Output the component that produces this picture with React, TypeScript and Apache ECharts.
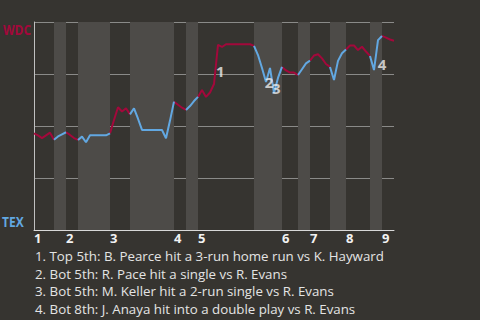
import React, { useEffect, useRef } from "react";
import * as echarts from "echarts";

// Win probability (WDC %) after each event, event index 0..90
const winProb: number[] = [
  46.5, 45.5, 44.2, 45.5, 46.8, 43.4, 45.0, 46.0, 47.0, 45.7,
  44.2, 43.3, 44.9, 42.2, 45.5, 45.5, 45.5, 45.5, 45.5, 46.5,
  52.9, 59.0, 57.0, 58.5, 55.6, 58.5, 53.5, 48.1, 48.1, 48.1,
  48.1, 48.1, 48.1, 44.1, 52.6, 61.7, 60.2, 58.8, 57.7, 59.6,
  62.0, 64.0, 67.3, 64.0, 66.1, 70.2, 89.0, 88.0, 89.3, 89.3,
  89.3, 89.3, 89.3, 89.3, 89.3, 88.5, 84.1, 77.9, 71.2, 77.9,
  65.9, 73.1, 78.4, 76.7, 75.7, 75.7, 74.5, 77.3, 80.1, 81.4,
  83.9, 84.5, 82.5, 79.8, 78.4, 72.1, 81.3, 85.0, 86.8, 88.7,
  88.7, 86.5, 88.1, 85.8, 83.7, 76.9, 91.3, 93.3, 92.5, 91.6,
  91.0,
];

// Event index where each inning (top half) starts, and where each bottom half starts
const inningStarts: number[] = [0, 8, 19, 35, 41, 62, 69, 78, 87];
const bottomStarts: number[] = [5, 11, 24, 38, 55, 66, 74, 84];
const inningLabels: string[] = ["1", "2", "3", "4", "5", "6", "7", "8", "9"];
const lastEvent = 90;

// Annotation markers on the chart
const noteText: string[] = ["1", "2", "3", "4"];
const noteX: number[] = [46.6, 58.75, 60.6, 87];
const noteY: number[] = [76.4, 71.2, 68.3, 79.8];

const notes: string[] = [
  "1. Top 5th: B. Pearce hit a 3-run home run vs K. Hayward",
  "2. Bot 5th: R. Pace hit a single vs R. Evans",
  "3. Bot 5th: M. Keller hit a 2-run single vs R. Evans",
  "4. Bot 8th: J. Anaya hit into a double play vs R. Evans",
];

const RED = "#a3083b";
const BLUE = "#62a8e2";
const BG = "#363430";
const BAND = "#4d4b48";
const FONT = "'Open Sans', sans-serif";

function halfOf(i: number): "top" | "bot" {
  let half: "top" | "bot" = "top";
  const marks = [
    ...inningStarts.map((v) => ({ v, h: "top" as const })),
    ...bottomStarts.map((v) => ({ v, h: "bot" as const })),
  ].sort((a, b) => a.v - b.v);
  for (const m of marks) if (i >= m.v) half = m.h;
  return half;
}

export default function App() {
  const ref = useRef<HTMLDivElement>(null);
  useEffect(() => {
    if (!ref.current) return;
    const chart = echarts.init(ref.current, undefined, { renderer: "svg" });

    // segment i -> i+1 coloured by the half-inning of point i
    const redData: any[] = [];
    const blueData: any[] = [];
    for (let i = 0; i <= lastEvent; i++) {
      const cur = halfOf(i);
      const prev = i > 0 ? halfOf(i - 1) : cur;
      const inRed = cur === "top" || prev === "top";
      const inBlue = cur === "bot" || prev === "bot";
      redData.push(inRed ? [i, winProb[i]] : [i, null]);
      blueData.push(inBlue ? [i, winProb[i]] : [i, null]);
    }

    const bands = bottomStarts.map((s) => {
      const end = inningStarts.find((v) => v > s) ?? lastEvent;
      return [{ xAxis: s }, { xAxis: end }];
    });

    chart.setOption({
      animation: false,
      backgroundColor: BG,
      grid: { left: 34, right: 86, top: 22, bottom: 90 },
      xAxis: {
        type: "value",
        min: 0,
        max: lastEvent,
        axisLine: { show: true, lineStyle: { color: "#d8d8d8", width: 1 } },
        axisTick: { show: false },
        splitLine: { show: false },
        axisLabel: {
          customValues: inningStarts,
          formatter: (v: number) => inningLabels[inningStarts.indexOf(v)] ?? "",
          align: "left",
          color: "#f2f2f2",
          fontWeight: "bold",
          fontSize: 13,
          fontFamily: FONT,
          margin: 2,
          lineHeight: 11,
        },
      },
      yAxis: {
        type: "value",
        min: 0,
        max: 100,
        interval: 25,
        axisLine: { show: true, lineStyle: { color: "#c0c0c0", width: 1 } },
        axisTick: { show: false },
        axisLabel: { show: false },
        splitLine: { show: true, lineStyle: { color: "#8a8a88", width: 1 } },
      },
      graphic: [
        {
          type: "text",
          x: 3,
          y: 29,
          scaleX: 0.8,
          style: {
            text: "WDC",
            fill: RED,
            font: `bold 15px ${FONT}`,
            verticalAlign: "middle",
            align: "left",
          },
        },
        {
          type: "text",
          x: 2,
          y: 221,
          scaleX: 0.8,
          style: {
            text: "TEX",
            fill: BLUE,
            font: `bold 15px ${FONT}`,
            verticalAlign: "middle",
            align: "left",
          },
        },
        ...notes.map((t, i) => ({
          type: "text",
          x: 35,
          y: 256 + i * 17.7,
          style: {
            text: t,
            fill: "#e4e4e4",
            font: `13.3px ${FONT}`,
            lineHeight: 14,
            verticalAlign: "middle",
            align: "left",
          },
        })),
      ],
      series: [
        {
          type: "line",
          z: -1,
          data: [],
          silent: true,
          markArea: {
            silent: true,
            itemStyle: { color: BAND },
            data: bands,
          },
        },
        {
          type: "line",
          data: redData,
          symbol: "none",
          connectNulls: false,
          lineStyle: { color: RED, width: 2 },
          z: 3,
        },
        {
          type: "line",
          data: blueData,
          symbol: "none",
          connectNulls: false,
          lineStyle: { color: BLUE, width: 2 },
          z: 3,
        },
        {
          type: "scatter",
          symbolSize: 0,
          z: 5,
          data: noteText.map((t, i) => ({ name: t, value: [noteX[i], noteY[i]] })),
          label: {
            show: true,
            position: "inside",
            formatter: (p: any) => p.name,
            color: "#eeeeee",
            fontWeight: "bold",
            fontSize: 15,
            fontFamily: FONT,
          },
        },
      ],
    });
    return () => chart.dispose();
  }, []);
  return (
    <div
      ref={ref}
      style={{ position: "absolute", left: 0, top: 0, width: 480, height: 320, background: BG }}
    />
  );
}
